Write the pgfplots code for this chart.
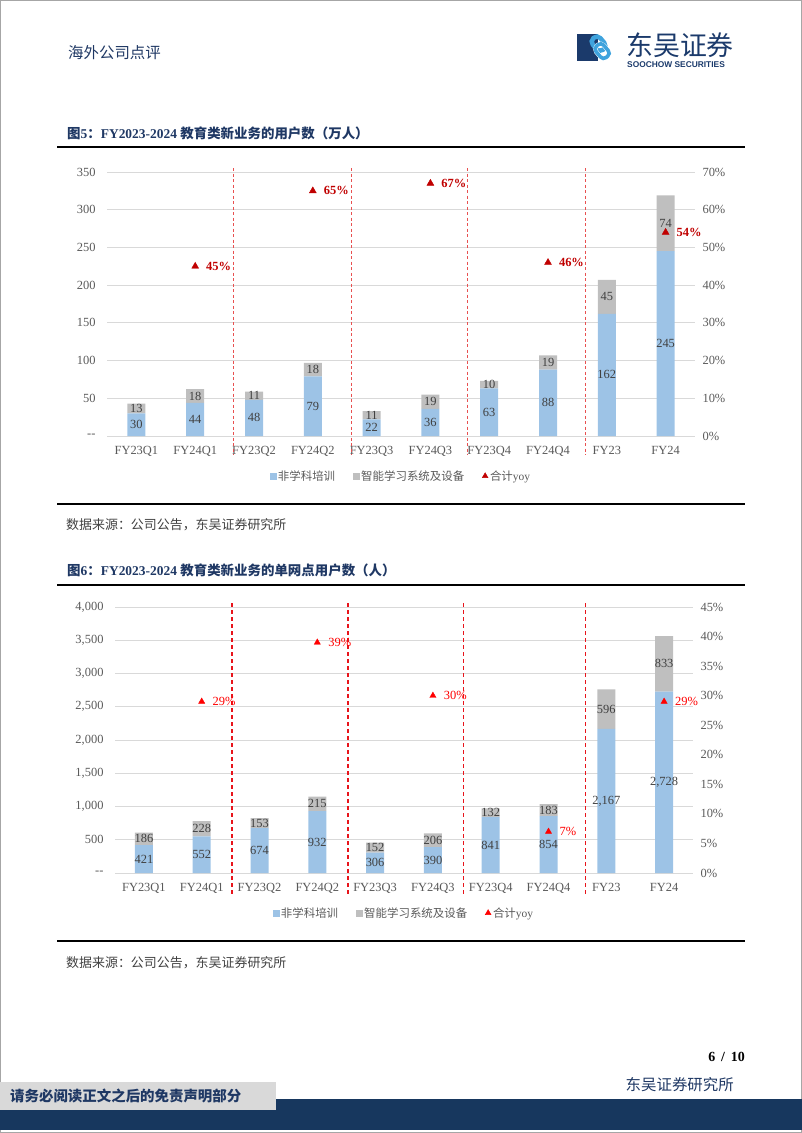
\documentclass[border=0pt]{standalone}
\usepackage{pgfplots}
\usepackage{pgfplotstable}
\pgfplotsset{compat=1.18}
\usepackage{fontspec}
\setmainfont{Liberation Serif}
\setsansfont{Liberation Sans}
\newfontfamily\cjk{Noto Sans CJK SC}
\definecolor{barblue}{HTML}{9DC3E6}
\definecolor{bargray}{HTML}{BFBFBF}
\definecolor{gridgray}{HTML}{D9D9D9}
\definecolor{ticktext}{HTML}{595959}
\definecolor{labeltext}{HTML}{404040}
\definecolor{darkred}{HTML}{C00000}
\definecolor{brightred}{HTML}{FF0000}
\definecolor{sepred}{HTML}{E85050}
\definecolor{sepred2}{HTML}{E8141B}
\definecolor{navy}{HTML}{17375E}
\definecolor{titlenavy}{HTML}{1F3864}
\definecolor{logoblue}{HTML}{3FA3DD}
\definecolor{logonavy}{HTML}{1B3A6B}
\definecolor{footgray}{HTML}{D9D9D9}

\newcommand\fs[1]{\fontsize{#1}{#1}\selectfont}

\pgfplotstableread{
x a b
0 30 13
1 44 18
2 48 11
3 79 18
4 22 11
5 36 19
6 63 10
7 88 19
8 162 45
9 245 74
}\dataA

\pgfplotstableread{
x a b
0 421 186
1 552 228
2 674 153
3 932 215
4 306 152
5 390 206
6 841 132
7 854 183
8 2167 596
9 2728 833
}\dataB

\pgfplotsset{
  base/.style={
    scale only axis, enlargelimits=false,
    xmin=-0.5, xmax=9.5,
    axis line style={draw=none},
    major tick length=0pt,
    tick label style={font=\fs{12.5}, text=ticktext},
    /pgf/number format/assume math mode=true,
    clip=false,
  },
  barsaxis/.style={base, ybar stacked, bar width=18bp,
    ymajorgrids, grid style={gridgray, line width=0.8bp},
    xtick={0,...,9},
    xticklabels={FY23Q1,FY24Q1,FY23Q2,FY24Q2,FY23Q3,FY24Q3,FY23Q4,FY24Q4,FY23,FY24},
    xticklabel style={yshift=-7bp},
    yticklabel style={xshift=-8bp},
  },
  labelaxis/.style={base, axis x line=none, axis y line=none},
  seglabel/.style={only marks, mark=none, point meta=explicit,
    nodes near coords,
    nodes near coords align={anchor=center},
    every node near coord/.append style={font=\fs{12.5}, text=labeltext, inner sep=0pt, anchor=center}},
  yoyaxis/.style={base, axis x line=none, axis y line*=right,
    yticklabel style={xshift=4bp},
    legend columns=3,
    legend cell align=left,
    legend style={draw=none, fill=none, font=\fs{11.5}, text=ticktext,
      anchor=center, inner sep=0pt,
      /tikz/every even column/.append style={column sep=16bp}},
  },
  legblue/.style={legend image code/.code={\fill[barblue] (0bp,-2.8bp) rectangle (5.6bp,2.8bp);}},
  leggray/.style={legend image code/.code={\fill[bargray] (0bp,-2.8bp) rectangle (5.6bp,2.8bp);}},
  legtriA/.style={legend image code/.code={\draw[only marks, mark=triangle*, mark size=3.3bp, color=darkred] plot coordinates {(3bp,0bp)};}},
  legtriB/.style={legend image code/.code={\draw[only marks, mark=triangle*, mark size=3.3bp, color=brightred] plot coordinates {(3bp,0bp)};}},
}

\begin{document}
\begin{tikzpicture}[x=1bp,y=1bp]
\path[use as bounding box] (0,0) rectangle (802,-1133);
\draw[gray!70, line width=1.2bp] (0.6,-0.6) rectangle (801.4,-1132.4);

% header
\node[anchor=west, inner sep=0, text=titlenavy] at (68,-53) {\cjk\fs{15.5}海外公司点评};
% logo
\fill[logonavy] (577,-34) rectangle (598,-61);
\begin{scope}[rotate around={-50:(600,-47)}]
\draw[logoblue, line width=4.5bp, rounded corners=4.5bp] (589,-51) rectangle (604,-41);
\draw[white, line width=4.5bp, rounded corners=4.5bp] (597,-53) rectangle (612,-43);
\draw[logoblue, line width=3.6bp, rounded corners=4bp] (597,-53) rectangle (612,-43);
\end{scope}
\node[anchor=west, inner sep=0, text=logonavy] at (626,-45) {\cjk\fs{27}东吴证券};
\node[anchor=west, inner sep=0, text=logonavy] at (627,-64.5) {\sffamily\bfseries\fs{8.4}SOOCHOW SECURITIES};

% title 1
\node[anchor=west, inner sep=0, text=titlenavy] at (67,-133) {\fs{13.5}\bfseries{\cjk 图}5{\cjk ：}FY2023-2024 {\cjk 教育类新业务的用户数（万人）}};
\draw[black, line width=1.5bp] (57,-147) -- (745,-147);
\draw[black, line width=1.2bp] (57,-504) -- (745,-504);
\node[anchor=west, inner sep=0, text=labeltext] at (66,-525) {\cjk\fs{13}数据来源：公司公告，东吴证券研究所};

% chart 1
\begin{axis}[barsaxis, at={(107bp,-436bp)}, anchor=south west,
  width=588bp, height=264bp, ymin=0, ymax=350,
  ytick={0,50,...,350}, yticklabels={-{}-,50,100,150,200,250,300,350}]
\addplot[fill=barblue, draw=none] table[x=x,y=a]{\dataA};
\addplot[fill=bargray, draw=none] table[x=x,y=b]{\dataA};
\coordinate (a1t) at (axis cs:1.65,355); \coordinate (a1b) at (axis cs:1.65,-25);
\coordinate (a2t) at (axis cs:3.65,355); \coordinate (a2b) at (axis cs:3.65,-25);
\coordinate (a3t) at (axis cs:5.63,355); \coordinate (a3b) at (axis cs:5.63,-25);
\coordinate (a4t) at (axis cs:7.63,355); \coordinate (a4b) at (axis cs:7.63,-25);
\end{axis}
\begin{scope}[sepred, line width=1bp, dash pattern=on 3bp off 2.5bp]
\draw (a1t) -- (a1b);
\draw (a2t) -- (a2b);
\draw (a3t) -- (a3b);
\draw (a4t) -- (a4b);
\end{scope}
\begin{axis}[labelaxis, at={(107bp,-436bp)}, anchor=south west,
  width=588bp, height=264bp, ymin=0, ymax=350]
\addplot[seglabel] table[x=x, y expr=\thisrow{a}/2, meta=a]{\dataA};
\addplot[seglabel] table[x=x, y expr=\thisrow{a}+\thisrow{b}/2, meta=b]{\dataA};
\end{axis}
\begin{axis}[yoyaxis, at={(107bp,-436bp)}, anchor=south west,
  width=588bp, height=264bp, ymin=0, ymax=70,
  ytick={0,10,...,70}, yticklabels={0\%,10\%,20\%,30\%,40\%,50\%,60\%,70\%},
  legend style={at={(0.5,-0.1515)}}]
\addlegendimage{legblue}
\addlegendimage{leggray}
\addlegendimage{legtriA}
\addplot[forget plot, only marks, mark=triangle*, mark size=4bp, color=darkred,
  nodes near coords={\pgfmathprintnumber{\pgfplotspointmeta}\%},
  nodes near coords align={anchor=west},
  every node near coord/.append style={xshift=7.5bp, font=\bfseries\fs{12.5}, text=darkred}]
  coordinates {(1,45) (3,65) (5,67) (7,46) (9,54)};
\legend{{\cjk 非学科培训},{\cjk 智能学习系统及设备},{\cjk 合计}yoy}
\end{axis}

% title 2
\node[anchor=west, inner sep=0, text=titlenavy] at (67,-570) {\fs{13.5}\bfseries{\cjk 图}6{\cjk ：}FY2023-2024 {\cjk 教育类新业务的单网点用户数（人）}};
\draw[black, line width=1.5bp] (57,-585) -- (745,-585);
\draw[black, line width=1.2bp] (57,-941) -- (745,-941);
\node[anchor=west, inner sep=0, text=labeltext] at (66,-963) {\cjk\fs{13}数据来源：公司公告，东吴证券研究所};

% chart 2
\begin{axis}[barsaxis, at={(115bp,-873bp)}, anchor=south west,
  width=578bp, height=266bp, ymin=0, ymax=4000,
  ytick={0,500,...,4000}, yticklabels={-{}-,500,{1,000},{1,500},{2,000},{2,500},{3,000},{3,500},{4,000}}]
\addplot[fill=barblue, draw=none] table[x=x,y=a]{\dataB};
\addplot[fill=bargray, draw=none] table[x=x,y=b]{\dataB};
\coordinate (b1t) at (axis cs:1.52,4060); \coordinate (b1b) at (axis cs:1.52,-331);
\coordinate (b2t) at (axis cs:3.53,4060); \coordinate (b2b) at (axis cs:3.53,-331);
\coordinate (b3t) at (axis cs:5.53,4060); \coordinate (b3b) at (axis cs:5.53,-331);
\coordinate (b4t) at (axis cs:7.64,4060); \coordinate (b4b) at (axis cs:7.64,-331);
\end{axis}
\begin{scope}[sepred2, line width=1.6bp, dash pattern=on 4bp off 3bp]
\draw (b1t) -- (b1b);
\draw (b2t) -- (b2b);
\draw (b3t) -- (b3b);
\draw (b4t) -- (b4b);
\end{scope}
\begin{axis}[labelaxis, at={(115bp,-873bp)}, anchor=south west,
  width=578bp, height=266bp, ymin=0, ymax=4000]
\addplot[seglabel] table[x=x, y expr=\thisrow{a}/2, meta=a]{\dataB};
\addplot[seglabel] table[x=x, y expr=\thisrow{a}+\thisrow{b}/2, meta=b]{\dataB};
\end{axis}
\begin{axis}[yoyaxis, at={(115bp,-873bp)}, anchor=south west,
  width=578bp, height=266bp, ymin=0, ymax=45,
  ytick={0,5,...,45}, yticklabels={0\%,5\%,10\%,15\%,20\%,25\%,30\%,35\%,40\%,45\%},
  legend style={at={(0.5,-0.150)}}]
\addlegendimage{legblue}
\addlegendimage{leggray}
\addlegendimage{legtriB}
\addplot[forget plot, only marks, mark=triangle*, mark size=3.6bp, color=brightred,
  nodes near coords={\pgfmathprintnumber{\pgfplotspointmeta}\%},
  nodes near coords align={anchor=west},
  every node near coord/.append style={xshift=7.5bp, font=\fs{12.5}, text=brightred}]
  coordinates {(1,29) (3,39) (5,30) (7,7) (9,29)};
\legend{{\cjk 非学科培训},{\cjk 智能学习系统及设备},{\cjk 合计}yoy}
\end{axis}

% footer
\node[anchor=east, inner sep=0] at (745,-1057) {\bfseries\fs{14}6 \,/\, 10};
\node[anchor=east, inner sep=0, text=titlenavy] at (734,-1085) {\cjk\fs{15.5}东吴证券研究所};
\fill[navy] (0,-1099) rectangle (802,-1130);
\fill[footgray] (0,-1082) rectangle (276,-1110);
\node[anchor=west, inner sep=0, text=titlenavy] at (10,-1096) {\cjk\bfseries\fs{14.5}请务必阅读正文之后的免责声明部分};
\end{tikzpicture}
\end{document}
